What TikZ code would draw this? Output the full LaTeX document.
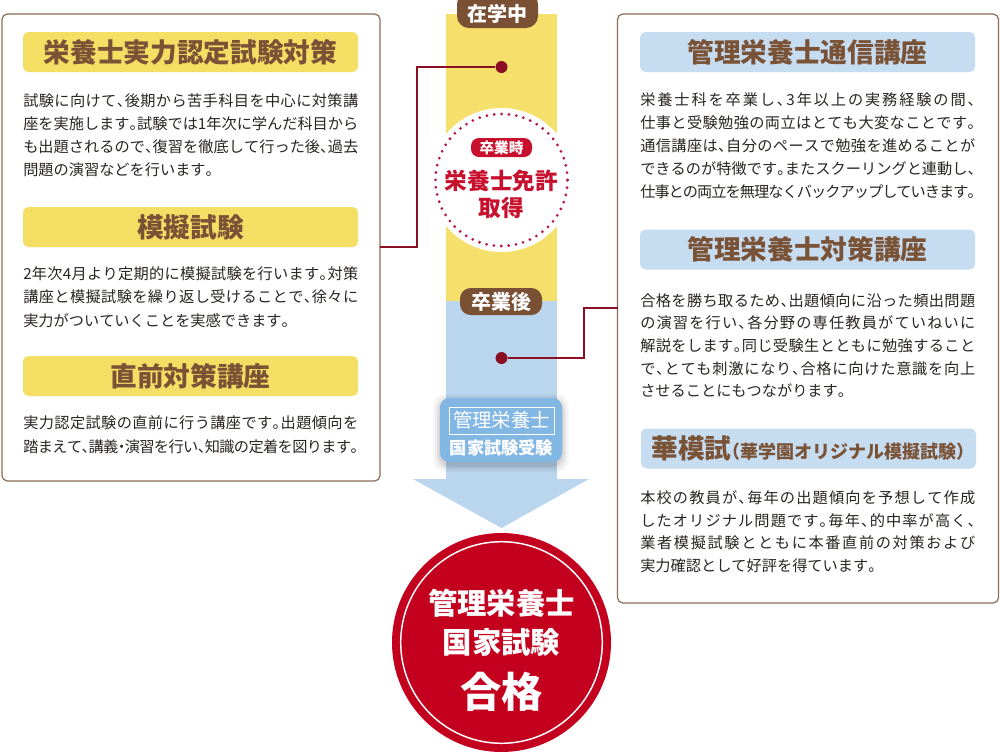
\documentclass[tikz,border=0pt]{standalone}
\usepackage{fontspec}
\setmainfont{Noto Sans CJK JP}[RawFeature=+halt]
\XeTeXinterchartokenstate=1
\newXeTeXintercharclass\jcls
\newcount\jcnt
\jcnt="3000
\loop\ifnum\jcnt<"A000 \XeTeXcharclass\jcnt=\jcls\advance\jcnt by 1 \repeat
\jcnt="FF00
\loop\ifnum\jcnt<"FFF0 \XeTeXcharclass\jcnt=\jcls\advance\jcnt by 1 \repeat
\XeTeXinterchartoks\jcls\jcls={\hskip0pt plus 4pt minus 0.9pt\relax}
\XeTeXinterchartoks 0 \jcls={\hskip0pt plus 4pt minus 0.9pt\relax}
\XeTeXinterchartoks\jcls 0 ={\hskip0pt plus 4pt minus 0.9pt\relax}
\newcommand\jl[1]{\hbox to 251.25pt{#1}}
\definecolor{boxbrown}{HTML}{8C6B52}
\definecolor{hbrown}{HTML}{7A5236}
\definecolor{hyellow}{HTML}{F4DF64}
\definecolor{hblue}{HTML}{C6DCF1}
\definecolor{colyellow}{HTML}{F5E06B}
\definecolor{colblue}{HTML}{BAD5EE}
\definecolor{tabbrown}{HTML}{7A5034}
\definecolor{dred}{HTML}{8A0F23}
\definecolor{licred}{HTML}{C8102E}
\definecolor{dotred}{HTML}{B3164B}
\definecolor{goalred}{HTML}{C4001F}
\definecolor{examblue}{HTML}{82B6E3}
\definecolor{bodytxt}{HTML}{2A2523}
\tikzset{
 panel/.style={draw=boxbrown, line width=0.9pt, fill=white, rounded corners=4pt, inner sep=0pt},
 hy/.style={fill=hyellow, rounded corners=4pt, minimum width=251.25pt, minimum height=30pt, inner sep=0pt, text=hbrown, font=\bfseries\fontsize{20}{24}\selectfont},
 hb/.style={hy, fill=hblue},
 bt/.style={anchor=base west, inner sep=0pt, text=bodytxt, font=\fontsize{11.4}{14}\selectfont},
 conn/.style={draw=dred, line width=1.1pt},
 dotm/.style={circle, fill=dred, minimum size=9pt, inner sep=0pt},
 tabt/.style={text=white, font=\bfseries\fontsize{15}{18}\selectfont, inner sep=0pt},
 goalt/.style={text=white, font=\bfseries\fontsize{22}{26}\selectfont, inner sep=0pt},
}
\begin{document}
\begin{tikzpicture}[x=0.75pt,y=-0.75pt]
\useasboundingbox (0,0) rectangle (1000,751);
\begin{scope}
\clip (0,0) rectangle (1000,751);
% panels
\node[panel, minimum width=283.5pt, minimum height=350.25pt] (lbox) at (191,247.5) {};
\node[panel, minimum width=285.75pt, minimum height=441.75pt] (rbox) at (808,308.5) {};
% left headings and text
\node[hy] (h1) at (190.5,52) {栄養士実力認定試験対策};
\node[bt] (t1a) at (23,106.3) {\jl{試験に向けて、後期から苦手科目を中心に対策講}};
\node[bt] (t1b) at (23,129.3) {\jl{座を実施します。試験では1年次に学んだ科目から}};
\node[bt] (t1c) at (23,152.3) {\jl{も出題されるので、復習を徹底して行った後、過去}};
\node[bt] (t1d) at (23,175.3) {問題の演習などを行います。};
\node[hy] (h2) at (190.5,227) {模擬試験};
\node[bt] (t2a) at (23,279.3) {\jl{2年次4月より定期的に模擬試験を行います。対策}};
\node[bt] (t2b) at (23,302.8) {\jl{講座と模擬試験を繰り返し受けることで、徐々に}};
\node[bt] (t2c) at (23,326.3) {実力がついていくことを実感できます。};
\node[hy] (h3) at (190.5,376) {直前対策講座};
\node[bt] (t3a) at (23,428.8) {\jl{実力認定試験の直前に行う講座です。出題傾向を}};
\node[bt] (t3b) at (23,452.3) {\jl{踏まえて、講義・演習を行い、知識の定着を図ります。}};
% right headings and text
\node[hb] (r1) at (807.5,52) {管理栄養士通信講座};
\node[bt] (s1a) at (640,105.8) {\jl{栄養士科を卒業し、3年以上の実務経験の間、}};
\node[bt] (s1b) at (640,128.8) {\jl{仕事と受験勉強の両立はとても大変なことです。}};
\node[bt] (s1c) at (640,151.8) {\jl{通信講座は、自分のペースで勉強を進めることが}};
\node[bt] (s1d) at (640,174.8) {\jl{できるのが特徴です。またスクーリングと連動し、}};
\node[bt] (s1e) at (640,197.8) {\jl{仕事との両立を無理なくバックアップしていきます。}};
\node[hb] (r2) at (807.5,249.5) {管理栄養士対策講座};
\node[bt] (s2a) at (640,306.3) {\jl{合格を勝ち取るため、出題傾向に沿った頻出問題}};
\node[bt] (s2b) at (640,328.8) {\jl{の演習を行い、各分野の専任教員がていねいに}};
\node[bt] (s2c) at (640,351.8) {\jl{解説をします。同じ受験生とともに勉強すること}};
\node[bt] (s2d) at (640,374.3) {\jl{で、とても刺激になり、合格に向けた意識を向上}};
\node[bt] (s2e) at (640,396.8) {させることにもつながります。};
\node[hb] (r3) at (808.5,448.5) {華模試{\fontsize{13.5}{16}\selectfont（華学園オリジナル模擬試験）}};
\node[bt] (s3a) at (640,503.8) {\jl{本校の教員が、毎年の出題傾向を予想して作成}};
\node[bt] (s3b) at (640,526.3) {\jl{したオリジナル問題です。毎年、的中率が高く、}};
\node[bt] (s3c) at (640,548.8) {\jl{業者模擬試験とともに本番直前の対策および}};
\node[bt] (s3d) at (640,571.3) {実力確認として好評を得ています。};
% central column
\fill[colyellow] (446,14) rectangle (557,301);
\fill[colblue] (446,301) rectangle (557,479);
\fill[colblue] (413,479) -- (589,479) -- (501.5,528) -- cycle;
% licence circle
\node[circle, fill=white, minimum size=108pt, inner sep=0pt] (licbg) at (501.5,180) {};
\node[circle, draw=dotred, minimum size=99pt, inner sep=0pt, line width=2.3pt, line cap=round, dash pattern=on 0pt off 5.55pt] (ring) at (501.5,180) {};
\node[fill=licred, rounded corners=6pt, minimum width=45.75pt, minimum height=14.25pt, inner sep=0pt, text=white, font=\bfseries\fontsize{11}{13}\selectfont] (grad) at (501.5,147.5) {卒業時};
\node[text=licred, inner sep=0pt, font=\bfseries\fontsize{17}{20}\selectfont] (lic1) at (501.5,181) {栄養士免許};
\node[text=licred, inner sep=0pt, font=\bfseries\fontsize{17}{20}\selectfont] (lic2) at (501.5,207.5) {取得};
% connectors
\node[dotm] (dot1) at (501.5,67) {};
\node[dotm] (dot2) at (501.5,358) {};
\coordinate (k1) at (417,247);
\coordinate (lbj) at (380,247);
\coordinate (k2) at (584,308);
\coordinate (rbj) at (617.5,308);
\draw[conn] (dot1) -| (k1) -- (lbj);
\draw[conn] (dot2) -| (k2) -- (rbj);
% tabs
\node[fill=tabbrown, rounded corners=9pt, minimum width=60.75pt, minimum height=27pt, inner sep=0pt] (tab1bg) at (497.5,10) {};
\node[tabt] (tab1) at (497.5,14) {在学中};
\node[fill=tabbrown, rounded corners=8pt, minimum width=61.5pt, minimum height=20.25pt, inner sep=0pt, tabt] (tab2) at (501,301.5) {卒業後};
% exam box
\foreach \s/\o in {7/0.03,5/0.04,3/0.05,1.5/0.06}
  \fill[black, opacity=\o, rounded corners=9pt] (440-\s,398-\s+3) rectangle (562+\s,462+\s+3);
\node[fill=examblue, rounded corners=7pt, minimum width=91.5pt, minimum height=48pt, inner sep=0pt] (exam) at (501,430) {};
\node[draw=white, line width=0.6pt, minimum width=78.75pt, minimum height=20.25pt, inner sep=0pt, text=white, font=\fontsize{14.5}{17}\selectfont] (exam1) at (501.5,420.5) {管理栄養士};
\node[inner sep=0pt, text=white, font=\bfseries\fontsize{12.9}{15}\selectfont] (exam2) at (501.5,448) {国家試験受験};
% goal circle
\node[circle, fill=goalred, minimum size=164.25pt, inner sep=0pt] (goal) at (501.5,642.5) {};
\node[circle, draw=white, line width=1.1pt, minimum size=151.2pt, inner sep=0pt] (goalring) at (501.5,642.5) {};
\node[goalt] (g1) at (501.5,603) {管理栄養士};
\node[goalt] (g2) at (501.5,642) {国家試験};
\node[goalt, font=\bfseries\fontsize{31}{36}\selectfont] (g3) at (501.5,692) {合格};
\end{scope}
\end{tikzpicture}
\end{document}
